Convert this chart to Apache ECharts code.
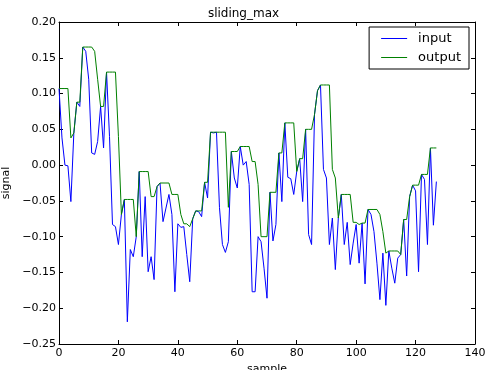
<!DOCTYPE html>
<html>
<head>
<meta charset="utf-8">
<script src="https://cdn.jsdelivr.net/npm/echarts@6/dist/echarts.min.js"></script>
<style>
  html, body { margin: 0; padding: 0; background: #fff; }
  #chart { width: 487px; height: 370px; }
</style>
</head>
<body>
<div id="chart"></div>
<script>
// values
const inputSignal = [
  0.107, 0.038, 0.000, -0.001, -0.051, 0.045, 0.088, 0.082, 0.165, 0.159,
  0.120, 0.017, 0.015, 0.033, 0.082, 0.024, 0.130, 0.040, -0.083, -0.086,
  -0.111, -0.069, -0.048, -0.219, -0.118, -0.128, -0.100, -0.009, -0.128, -0.044,
  -0.149, -0.128, -0.160, -0.030, -0.025, -0.079, -0.060, -0.041, -0.069, -0.177,
  -0.082, -0.087, -0.086, -0.125, -0.163, -0.075, -0.064, -0.065, -0.072, -0.024,
  -0.046, 0.046, 0.045, 0.046, -0.059, -0.111, -0.122, -0.107, 0.019, -0.018,
  -0.032, 0.026, 0.000, 0.005, -0.027, -0.177, -0.177, -0.100, -0.107, -0.144,
  -0.186, -0.038, -0.106, -0.083, 0.017, -0.051, 0.059, -0.017, -0.019, -0.041,
  -0.009, 0.009, -0.051, 0.050, -0.097, -0.111, 0.071, 0.104, 0.112, -0.006,
  -0.018, -0.111, -0.074, -0.146, -0.074, -0.041, -0.111, -0.080, -0.139, -0.109,
  -0.083, -0.137, -0.081, -0.166, -0.062, -0.069, -0.093, -0.137, -0.188, -0.123,
  -0.196, -0.120, -0.144, -0.165, -0.130, -0.125, -0.076, -0.155, -0.044, -0.028,
  -0.036, -0.149, -0.013, -0.020, -0.111, 0.024, -0.084, -0.023
]
const outputSignal = [
  0.107, 0.107, 0.107, 0.107, 0.038, 0.045, 0.088, 0.088, 0.165, 0.165,
  0.165, 0.165, 0.159, 0.120, 0.082, 0.082, 0.130, 0.130, 0.130, 0.130,
  0.040, -0.069, -0.048, -0.048, -0.048, -0.048, -0.100, -0.009, -0.009, -0.009,
  -0.009, -0.044, -0.044, -0.030, -0.025, -0.025, -0.025, -0.025, -0.041, -0.041,
  -0.041, -0.069, -0.082, -0.082, -0.086, -0.075, -0.064, -0.064, -0.064, -0.024,
  -0.024, 0.046, 0.046, 0.046, 0.046, 0.046, 0.046, -0.059, 0.019, 0.019,
  0.019, 0.026, 0.026, 0.026, 0.026, 0.005, 0.005, -0.027, -0.100, -0.100,
  -0.100, -0.038, -0.038, -0.038, 0.017, 0.017, 0.059, 0.059, 0.059, 0.059,
  -0.009, 0.009, 0.009, 0.050, 0.050, 0.050, 0.071, 0.104, 0.112, 0.112,
  0.112, 0.112, -0.006, -0.018, -0.074, -0.041, -0.041, -0.041, -0.041, -0.080,
  -0.080, -0.083, -0.081, -0.081, -0.062, -0.062, -0.062, -0.062, -0.069, -0.093,
  -0.123, -0.120, -0.120, -0.120, -0.120, -0.125, -0.076, -0.076, -0.044, -0.028,
  -0.028, -0.028, -0.013, -0.013, -0.013, 0.024, 0.024, 0.024
]
const xTicks = [0, 20, 40, 60, 80, 100, 120, 140]
const yTicks = [-0.25, -0.20, -0.15, -0.10, -0.05, 0.00, 0.05, 0.10, 0.15, 0.20]

const font = 'DejaVu Sans'
const chart = echarts.init(document.getElementById('chart'), null, { renderer: 'canvas' })

const frameAxis = {
  axisLine: { show: true, onZero: false, lineStyle: { color: '#000', width: 1 } },
  axisTick: { show: true, inside: true, length: 4, lineStyle: { color: '#000' } },
  splitLine: { show: false }
}
const fmtY = v => v.toFixed(2).replace('-', '\u2212')

chart.setOption({
  animation: false,
  backgroundColor: '#fff',
  title: {
    text: 'sliding_max',
    left: 'center',
    top: 3,
    textStyle: { fontFamily: font, fontSize: 12, fontWeight: 'normal', color: '#000' }
  },
  legend: {
    orient: 'vertical',
    right: 18,
    top: 27,
    backgroundColor: '#fff',
    borderColor: '#000',
    borderWidth: 1,
    borderRadius: 0,
    padding: [5, 8, 5, 12],
    itemWidth: 26,
    itemHeight: 1,
    itemGap: 6,
    textStyle: { fontFamily: font, fontSize: 13, color: '#000', padding: [0, 0, 0, 6] },
    data: [{ name: 'input', icon: 'rect' }, { name: 'output', icon: 'rect' }]
  },
  grid: { left: 59, right: 12, top: 22, bottom: 26, outerBoundsMode: 'none', containLabel: false },
  xAxis: [
    Object.assign({
      type: 'value', min: xTicks[0], max: xTicks[xTicks.length - 1], interval: 20,
      name: 'sample', nameLocation: 'middle', nameGap: 17,
      nameTextStyle: { fontFamily: font, fontSize: 11, color: '#000' },
      axisLabel: { fontFamily: font, fontSize: 11, color: '#000', margin: 4 }
    }, frameAxis),
    Object.assign({
      type: 'value', position: 'top', min: xTicks[0], max: xTicks[xTicks.length - 1], interval: 20,
      axisLabel: { show: false }
    }, frameAxis)
  ],
  yAxis: [
    Object.assign({
      type: 'value', min: yTicks[0], max: yTicks[yTicks.length - 1], interval: 0.05,
      name: 'signal', nameLocation: 'middle', nameGap: 41, nameRotate: 90,
      nameTextStyle: { fontFamily: font, fontSize: 11, color: '#000' },
      axisLabel: { fontFamily: font, fontSize: 11, color: '#000', margin: 3, formatter: fmtY }
    }, frameAxis),
    Object.assign({
      type: 'value', position: 'right', min: yTicks[0], max: yTicks[yTicks.length - 1], interval: 0.05,
      axisLabel: { show: false }
    }, frameAxis)
  ],
  series: [
    {
      name: 'input',
      type: 'line',
      data: inputSignal.map((v, i) => [i, v]),
      symbol: 'none',
      lineStyle: { color: '#0000ff', width: 1 },
      itemStyle: { color: '#0000ff' }
    },
    {
      name: 'output',
      type: 'line',
      data: outputSignal.map((v, i) => [i, v]),
      symbol: 'none',
      lineStyle: { color: '#008000', width: 1 },
      itemStyle: { color: '#008000' }
    }
  ]
})
</script>
</body>
</html>
